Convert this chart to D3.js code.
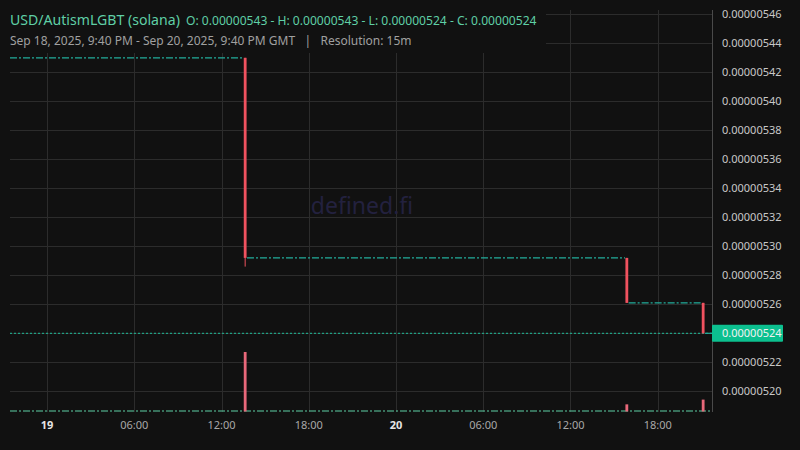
<!DOCTYPE html>
<html>
<head>
<meta charset="utf-8">
<script src="https://cdn.jsdelivr.net/npm/d3@7"></script>
<style>
  html, body { margin: 0; padding: 0; background: #111111; }
  svg { display: block; font-family: "Noto Sans", "Open Sans", sans-serif; }
</style>
</head>
<body>
<div id="chart"></div>
<script>
// Candles that actually moved (15m resolution), prices in USD
const candleTimes = ['2025-09-19T13:30:00Z', '2025-09-20T15:45:00Z', '2025-09-20T21:00:00Z'];
const candleOpen  = [0.00000543, 0.000005292, 0.000005261];
const candleHigh  = [0.00000543, 0.000005292, 0.000005261];
const candleLow   = [0.000005286, 0.000005261, 0.00000524];
const candleClose = [0.000005292, 0.000005261, 0.00000524];
const candleVolume = [100, 12, 20];

// Runs of flat candles (open = close) between the moves
const flatStart = ['2025-09-18T21:27:00Z', '2025-09-19T13:45:00Z', '2025-09-20T16:00:00Z', '2025-09-20T21:15:00Z'];
const flatEnd   = ['2025-09-19T13:30:00Z', '2025-09-20T15:45:00Z', '2025-09-20T21:00:00Z', '2025-09-20T21:44:00Z'];
const flatLevel = [0.00000543, 0.000005292, 0.000005261, 0.00000524];

const lastPrice = 0.00000524;

const yTicks = [520, 522, 524, 526, 528, 530, 532, 534, 536, 538, 540, 542, 544, 546].map(v => v * 1e-8);
const xTickTimes  = ['2025-09-19T00:00:00Z', '2025-09-19T06:00:00Z', '2025-09-19T12:00:00Z', '2025-09-19T18:00:00Z',
                     '2025-09-20T00:00:00Z', '2025-09-20T06:00:00Z', '2025-09-20T12:00:00Z', '2025-09-20T18:00:00Z'];
const xTickLabels = ['19', '06:00', '12:00', '18:00', '20', '06:00', '12:00', '18:00'];

const titleText = 'USD/AutismLGBT (solana)';
const ohlcText  = 'O: 0.00000543 - H: 0.00000543 - L: 0.00000524 - C: 0.00000524';
const rangeText = 'Sep 18, 2025, 9:40 PM - Sep 20, 2025, 9:40 PM GMT   |   Resolution: 15m';

const W = 800, H = 450;
const plot = { left: 10, right: 712, top: 10, bottom: 412 };
const RED = '#f0525f', TEAL = '#22ad9c', MINT = '#5fcfa6';

const svg = d3.select('#chart').append('svg')
  .attr('width', W).attr('height', H);

svg.append('rect').attr('width', W).attr('height', H).attr('fill', '#111111');

const x = d3.scaleUtc()
  .domain([new Date('2025-09-18T21:27:00Z'), new Date('2025-09-20T21:44:00Z')])
  .range([plot.left, plot.right]);
const y = d3.scaleLinear().domain([5.20e-6, 5.46e-6]).range([391.3, 14.3]);
const yVol = d3.scaleLinear().domain([0, 100]).range([411.5, 352]);

const half = 7.5 * 60 * 1000; // centre of a 15m candle

// grid
const grid = svg.append('g').attr('stroke', '#2c2c2c').attr('stroke-width', 1);
yTicks.forEach(v => {
  grid.append('line')
    .attr('x1', plot.left).attr('x2', plot.right)
    .attr('y1', Math.round(y(v)) + 0.5).attr('y2', Math.round(y(v)) + 0.5);
});
xTickTimes.forEach(t => {
  const px = Math.round(x(new Date(t))) + 0.5;
  grid.append('line').attr('x1', px).attr('x2', px).attr('y1', plot.top).attr('y2', plot.bottom);
});

// legend backdrop hides grid behind header
svg.append('rect').attr('x', 0).attr('y', 0).attr('width', 546).attr('height', 53).attr('fill', '#111111');

// watermark
svg.append('text')
  .attr('x', 362).attr('y', 214).attr('text-anchor', 'middle')
  .attr('font-size', 23).attr('fill', '#23213f')
  .text('defined.fi');

// volume baseline for the quiet candles
svg.append('line')
  .attr('x1', plot.left).attr('x2', plot.right)
  .attr('y1', yVol(0) - 0.5).attr('y2', yVol(0) - 0.5)
  .attr('stroke', MINT).attr('stroke-width', 1.2)
  .attr('stroke-dasharray', '7,2,2,2');

// volume bars
candleTimes.forEach((t, i) => {
  const cx = x(new Date(new Date(t).getTime() + half));
  svg.append('rect')
    .attr('x', cx - 1.4).attr('width', 2.8)
    .attr('y', yVol(candleVolume[i])).attr('height', yVol(0) - yVol(candleVolume[i]))
    .attr('fill', '#e8687a');
});

// last price line
svg.append('line')
  .attr('x1', plot.left).attr('x2', plot.right)
  .attr('y1', y(lastPrice)).attr('y2', y(lastPrice))
  .attr('stroke', '#1fbf9c').attr('stroke-width', 1)
  .attr('stroke-dasharray', '2,2');

// flat candles drawn as runs
flatLevel.forEach((v, i) => {
  svg.append('line')
    .attr('x1', x(new Date(flatStart[i]))).attr('x2', x(new Date(flatEnd[i])))
    .attr('y1', y(v)).attr('y2', y(v))
    .attr('stroke', TEAL).attr('stroke-width', 1.2)
    .attr('stroke-dasharray', '7,2,2,2');
});

// moving candles
candleTimes.forEach((t, i) => {
  const cx = x(new Date(new Date(t).getTime() + half));
  svg.append('line')
    .attr('x1', cx).attr('x2', cx)
    .attr('y1', y(candleHigh[i])).attr('y2', y(candleLow[i]))
    .attr('stroke', RED).attr('stroke-width', 1);
  const top = y(Math.max(candleOpen[i], candleClose[i]));
  const bot = y(Math.min(candleOpen[i], candleClose[i]));
  svg.append('rect')
    .attr('x', cx - 1.4).attr('width', 2.8)
    .attr('y', top).attr('height', bot - top)
    .attr('fill', RED);
});

// right axis
svg.append('line')
  .attr('x1', plot.right + 0.5).attr('x2', plot.right + 0.5)
  .attr('y1', plot.top).attr('y2', plot.bottom)
  .attr('stroke', '#4a4a4a');

const yAxis = svg.append('g');
yTicks.forEach(v => {
  yAxis.append('text')
    .attr('x', 722).attr('y', y(v) + 4)
    .attr('font-size', 11).attr('fill', '#c8c8c8')
    .text(v.toFixed(8));
});

// last price tag
svg.append('rect')
  .attr('x', plot.right).attr('y', y(lastPrice) - 8.5)
  .attr('width', 71).attr('height', 17).attr('rx', 1)
  .attr('fill', '#0cc08f');
svg.append('text')
  .attr('x', 722).attr('y', y(lastPrice) + 4)
  .attr('font-size', 11).attr('fill', '#f2f2f2')
  .text(lastPrice.toFixed(8));

// bottom axis
xTickTimes.forEach((t, i) => {
  const bold = !xTickLabels[i].includes(':');
  svg.append('text')
    .attr('x', x(new Date(t))).attr('y', 429)
    .attr('text-anchor', 'middle')
    .attr('font-size', 11)
    .attr('font-weight', bold ? 'bold' : 'normal')
    .attr('fill', bold ? '#e6e6e6' : '#a8a8a8')
    .text(xTickLabels[i]);
});

// header
svg.append('text')
  .attr('x', 10).attr('y', 25)
  .attr('font-size', 14.1).attr('fill', MINT)
  .text(titleText);
svg.append('text')
  .attr('x', 186).attr('y', 25)
  .attr('font-size', 12.1).attr('fill', MINT)
  .text(ohlcText);
svg.append('text')
  .attr('x', 10).attr('y', 45)
  .attr('font-size', 12).attr('fill', '#a0a0a0')
  .style('white-space', 'pre')
  .text(rangeText);
</script>
</body>
</html>
